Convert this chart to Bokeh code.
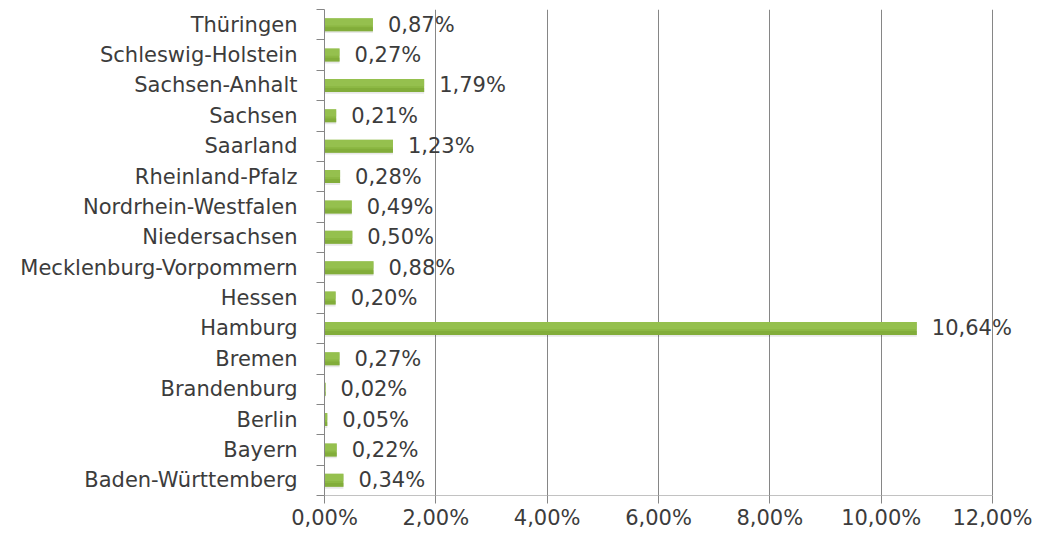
from bokeh.plotting import figure
from bokeh.models import FixedTicker, Range1d, ColumnDataSource, LabelSet
from bokeh.core.properties import value
from bokeh.embed import file_html
from bokeh.resources import INLINE

# ---- data (bottom to top) ----
states = [
    "Baden-Württemberg", "Bayern", "Berlin", "Brandenburg", "Bremen",
    "Hamburg", "Hessen", "Mecklenburg-Vorpommern", "Niedersachsen",
    "Nordrhein-Westfalen", "Rheinland-Pfalz", "Saarland", "Sachsen",
    "Sachsen-Anhalt", "Schleswig-Holstein", "Thüringen",
]
shares = [0.34, 0.22, 0.05, 0.02, 0.27, 10.64, 0.20, 0.88, 0.50,
          0.49, 0.28, 1.23, 0.21, 1.79, 0.27, 0.87]
x_ticks = [0, 2, 4, 6, 8, 10, 12]
x_tick_labels = ["0,00%", "2,00%", "4,00%", "6,00%", "8,00%", "10,00%", "12,00%"]

n = len(states)
centers = [i + 0.5 for i in range(n)]
bounds = list(range(n + 1))
value_labels = [("%.2f%%" % v).replace(".", ",") for v in shares]

BAR_H = 0.43
FONT = "DejaVu Sans"
FS = "21px"
TXT = "#3c3c3c"
GRID = "#868686"

W, H = 1032, 532
LEFT = 324          # frame left edge (px)
AXIS_END_PX = 992   # where the 12 % gridline sits (px)
x_max = x_ticks[-1]
x_end = x_max * (W - LEFT) / (AXIS_END_PX - LEFT)  # frame runs to the canvas edge

src = ColumnDataSource(dict(
    y=centers,
    v=shares,
    lab=value_labels,
    y_shadow=[c - 0.06 for c in centers],
    y_hi=[c + BAR_H * 0.22 for c in centers],
    y_lo=[c - BAR_H * 0.35 for c in centers],
))

p = figure(width=W, height=H, output_backend="svg", toolbar_location=None,
           x_range=Range1d(0, x_end), y_range=Range1d(0, n),
           min_border_left=LEFT, min_border_right=0,
           min_border_top=9, min_border_bottom=35)
p.outline_line_color = None
p.background_fill_color = "white"
p.border_fill_color = "white"

# bars: soft shadow, base, lighter top band, darker bottom band
p.hbar(y="y_shadow", right="v", left=0, height=BAR_H, source=src,
       fill_color="#000000", fill_alpha=0.09, line_color=None)
p.hbar(y="y", right="v", left=0, height=BAR_H, source=src,
       fill_color="#8cb843", line_color=None)
p.hbar(y="y_hi", right="v", left=0, height=BAR_H * 0.56, source=src,
       fill_color="#9dc658", fill_alpha=0.55, line_color=None)
p.hbar(y="y_lo", right="v", left=0, height=BAR_H * 0.3, source=src,
       fill_color="#78a232", fill_alpha=0.5, line_color=None)

# value labels
labels = LabelSet(x="v", y="y", text="lab", source=src, x_offset=15,
                  text_baseline="middle", text_align="left",
                  text_font=value(FONT), text_font_size=value(FS),
                  text_color=value(TXT))
p.add_layout(labels)

# x axis: own axis line only from 0 to 12 %
xt = FixedTicker(ticks=x_ticks)
p.xaxis.ticker = xt
p.xaxis.major_label_overrides = {t: l for t, l in zip(x_ticks, x_tick_labels)}
p.xaxis.major_label_text_font = FONT
p.xaxis.major_label_text_font_size = FS
p.xaxis.major_label_text_color = TXT
p.xaxis.axis_line_color = None
p.xaxis.major_tick_line_color = GRID
p.xaxis.major_tick_out = 8
p.xaxis.major_tick_in = 0
p.xaxis.minor_tick_line_color = None
p.xaxis.major_label_standoff = 2
p.segment(x0=[x_ticks[0]], x1=[x_ticks[-1]], y0=[0], y1=[0],
          line_color=GRID, line_width=1)

p.xgrid.ticker = xt
p.xgrid.grid_line_color = GRID
p.xgrid.grid_line_width = 1
p.ygrid.grid_line_color = None

# y axis: labels at category centres, ticks at category boundaries
yt = FixedTicker(ticks=centers, minor_ticks=bounds)
p.yaxis.ticker = yt
p.yaxis.major_label_overrides = {c: s for c, s in zip(centers, states)}
p.yaxis.major_label_text_font = FONT
p.yaxis.major_label_text_font_size = FS
p.yaxis.major_label_text_color = TXT
p.yaxis.axis_line_color = GRID
p.yaxis.major_tick_line_color = None
p.yaxis.major_tick_out = 8
p.yaxis.major_tick_in = 0
p.yaxis.minor_tick_line_color = GRID
p.yaxis.minor_tick_out = 8
p.yaxis.minor_tick_in = 0
p.yaxis.major_label_standoff = 19

open("out.html", "w").write(file_html(p, INLINE))
